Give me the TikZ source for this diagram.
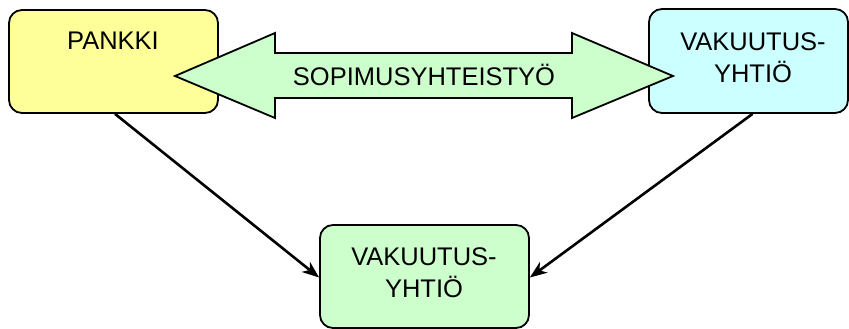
\documentclass[tikz,border=0pt]{standalone}
\usepackage{fontspec}
\setmainfont{Liberation Sans}
\usetikzlibrary{arrows.meta}
\definecolor{pyellow}{HTML}{FFFF99}
\definecolor{pcyan}{HTML}{CCFFFF}
\definecolor{pgreen}{HTML}{CCFFCC}
\begin{document}
\begin{tikzpicture}[x=1pt,y=-1pt,
  boxstyle/.style={draw=black,line width=1.8pt,rounded corners=13pt,inner sep=0pt},
  txt/.style={font=\fontsize{25.5}{32}\selectfont,align=center,inner sep=0pt},
  conn/.style={line width=2.6pt,-{Stealth[length=17pt,width=13pt,inset=5pt]}}]
\useasboundingbox (0,0) rectangle (849,329);
\node[boxstyle,fill=pyellow,minimum width=209pt,minimum height=103pt] (pankki) at (113.5,61.5) {};
\node[boxstyle,fill=pcyan,minimum width=199pt,minimum height=104pt] (vak) at (748.5,61) {};
\node[boxstyle,fill=pgreen,minimum width=209pt,minimum height=103pt] (bot) at (424.5,276.5) {};
\node[txt,anchor=base] (pt) at (113,50) {PANKKI};
\node[txt] (vt) at (753,58) {VAKUUTUS-\\YHTIÖ};
\node[txt] (bt) at (424,273) {VAKUUTUS-\\YHTIÖ};
\draw[line width=1.8pt,fill=pgreen,line join=miter]
  (175,76) -- (275,33) -- (275,53) -- (572,53) -- (572,33) -- (673,76)
  -- (572,118) -- (572,98) -- (275,98) -- (275,118) -- cycle;
\node[txt] (st) at (424,75) {SOPIMUSYHTEISTYÖ};
\draw[conn] ([xshift=1.5pt]pankki.south) -- ([yshift=-1pt]bot.west);
\draw[conn] ([xshift=4pt]vak.south) -- ([yshift=-1pt]bot.east);
\end{tikzpicture}
\end{document}
